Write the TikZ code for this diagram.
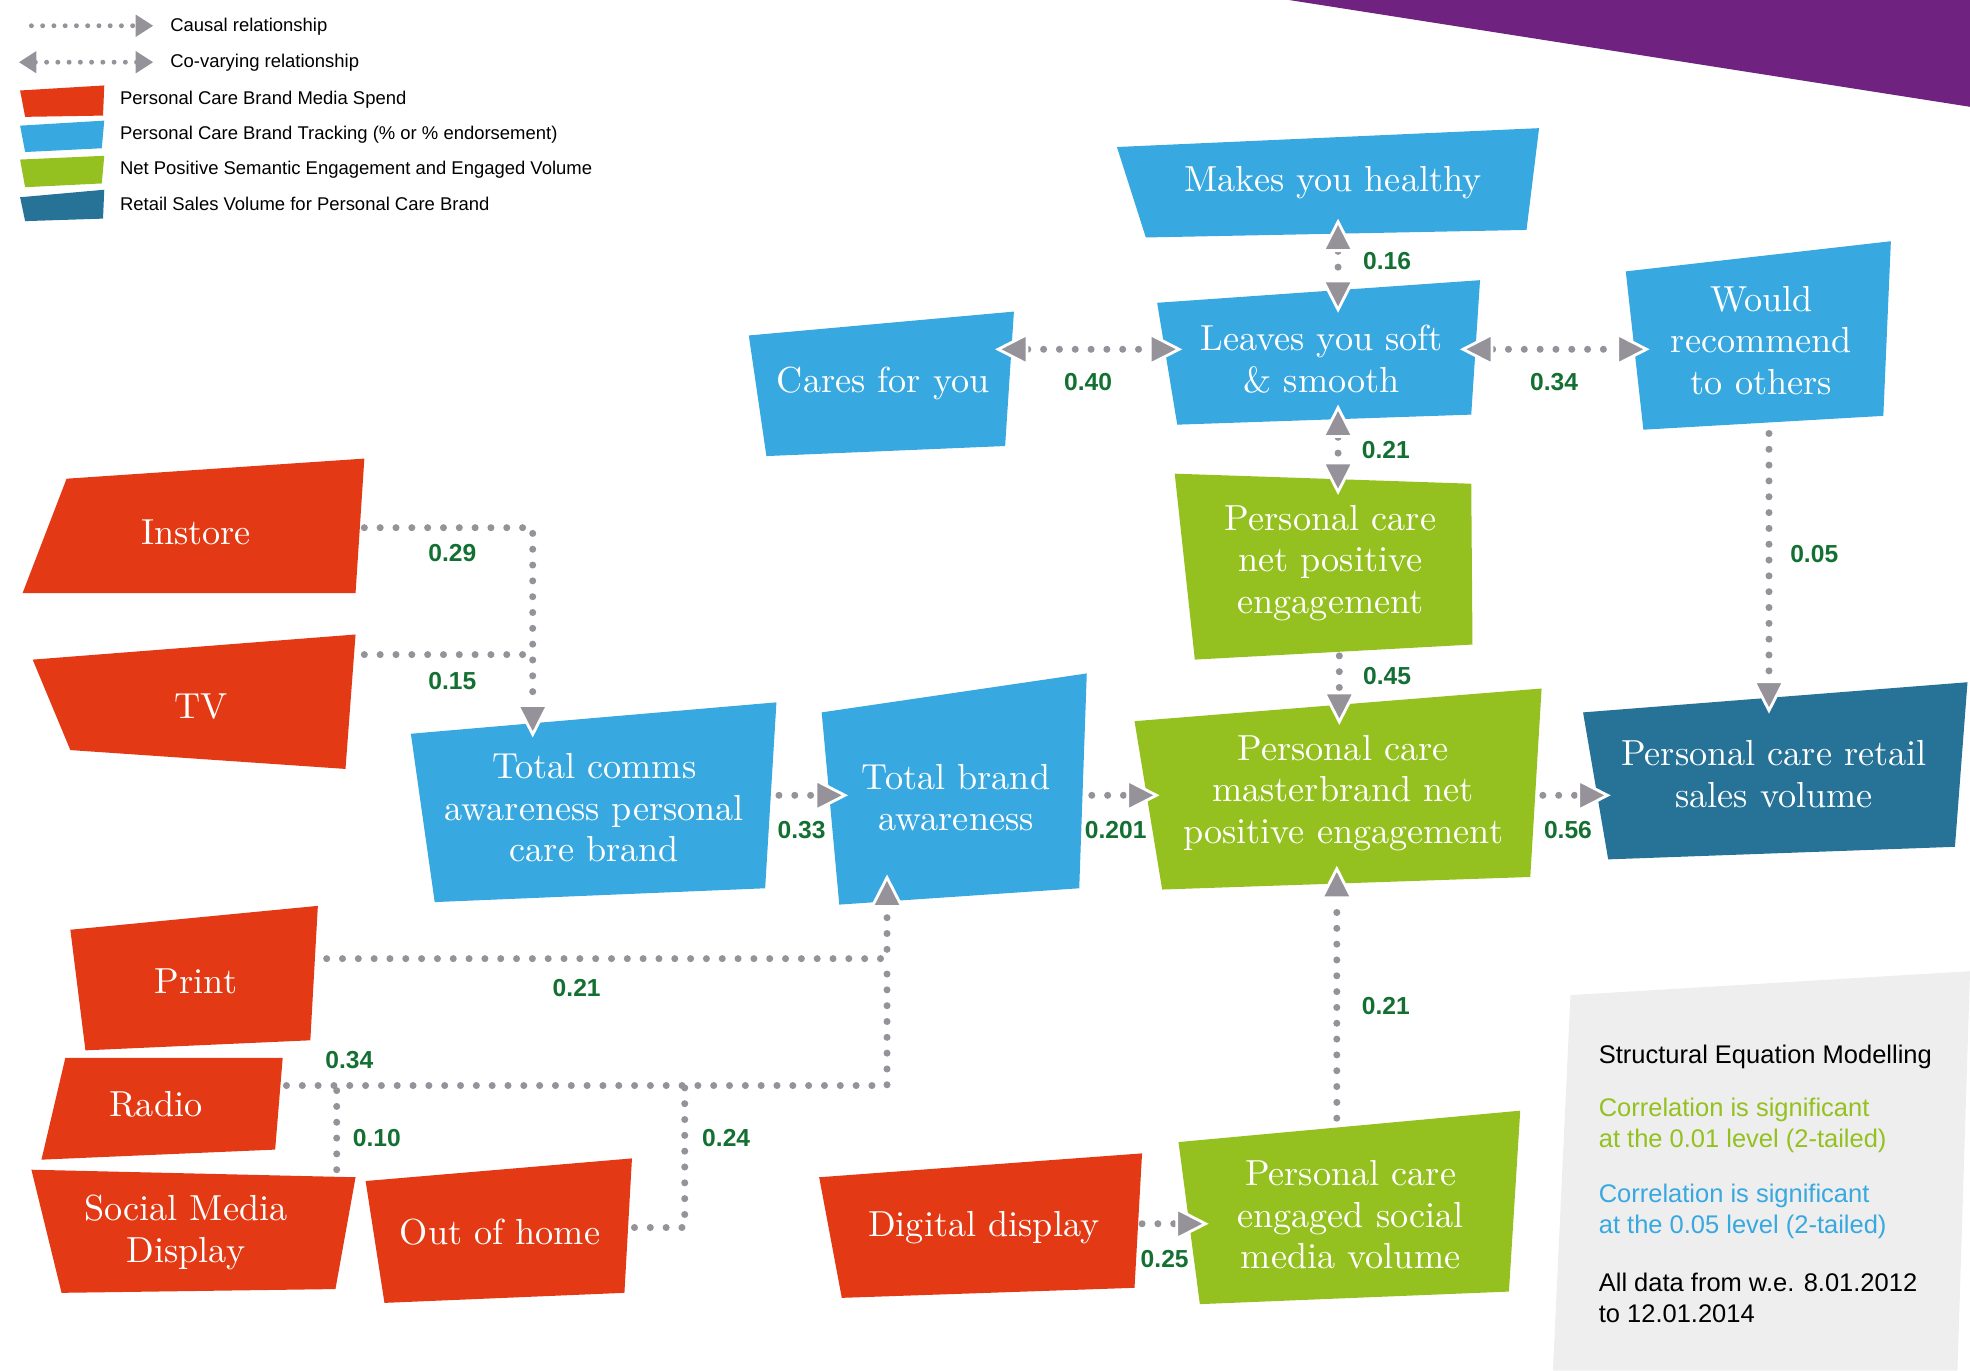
\documentclass[tikz,border=0pt]{standalone}
\usepackage{fontspec}
\newfontfamily\helv{Liberation Sans}
\usetikzlibrary{arrows.meta}
\definecolor{mediaRed}{RGB}{228,57,21}
\definecolor{trackBlue}{RGB}{56,168,224}
\definecolor{engGreen}{RGB}{148,193,31}
\definecolor{salesBlue}{RGB}{38,115,151}
\definecolor{cornerPurple}{RGB}{111,34,128}
\definecolor{semGray}{RGB}{238,238,238}
\definecolor{dotGray}{RGB}{150,146,154}
\definecolor{coefGreen}{RGB}{20,112,50}
\tikzset{
  semtip/.tip={Triangle[length=9.5pt, width=9.5pt, color=white, fill=dotGray, line width=0.8pt]},
  legtip/.tip={Triangle[length=5pt, width=6pt, color=dotGray, fill=dotGray]}
}

\begin{document}
\begin{tikzpicture}[x=0.012564cm, y=-0.012564cm,
  spend/.style={fill=mediaRed},
  track/.style={fill=trackBlue},
  engage/.style={fill=engGreen},
  sales/.style={fill=salesBlue},
  lbl/.style={text=white, align=center, inner sep=0pt, font=\fontsize{10.3}{11.8}\selectfont},
  coef/.style={text=coefGreen, inner sep=0pt, font=\helv\bfseries\fontsize{7}{8}\selectfont},
  legtxt/.style={anchor=west, inner sep=0pt, font=\helv\fontsize{5.25}{6}\selectfont},
  semtxt/.style={anchor=west, align=left, inner sep=0pt, font=\helv\fontsize{7.25}{8.9}\selectfont},
  link/.style={draw=dotGray, line width=2pt, line cap=round, dash pattern=on 0pt off 4.5pt},
  causal/.style={link, arrows={-semtip}},
  covary/.style={link, arrows={semtip-semtip}},
  leglink/.style={draw=dotGray, line width=1.4pt, line cap=round, dash pattern=on 0pt off 3.2pt}
]
\useasboundingbox (0,0) rectangle (1568,1091);

% corner and note panel
\fill[cornerPurple] (1026,0) -- (1568,0) -- (1568,85) -- cycle;
\fill[semGray] (1250,792) -- (1568,773) -- (1558,1091) -- (1236,1091) -- cycle;
\node[semtxt] (semhead) at (1272,841) {Structural Equation Modelling};
\node[semtxt, text=engGreen] (semgreen) at (1272,896) {Correlation is significant\\at the 0.01 level (2-tailed)};
\node[semtxt, text=trackBlue] (semblue) at (1272,964) {Correlation is significant\\at the 0.05 level (2-tailed)};
\node[semtxt] (semdata) at (1272,1033) {All data from w.e. 8.01.2012\\to 12.01.2014};

% legend
\coordinate (lgA1) at (25,20.5);
\coordinate (lgA2) at (122,20.5);
\coordinate (lgB1) at (15,49.5);
\coordinate (lgB2) at (122,49.5);
\draw[leglink, arrows={-legtip}] (lgA1) -- (lgA2);
\draw[leglink, arrows={legtip-legtip}] (lgB1) -- (lgB2);
\node[legtxt] (lgcausal) at (135,21) {Causal relationship};
\node[legtxt] (lgcovary) at (135,50) {Co-varying relationship};
\fill[spend] (16,72) -- (83,68) -- (82,92) -- (20,93) -- cycle;
\fill[track] (16,100) -- (83,96) -- (81,118) -- (20,121) -- cycle;
\fill[engage] (16,127) -- (83,124) -- (81,146) -- (20,149) -- cycle;
\fill[sales] (16,157) -- (83,151) -- (82,174) -- (20,176) -- cycle;
\node[legtxt] (lgspend) at (95,79) {Personal Care Brand Media Spend};
\node[legtxt] (lgtrack) at (95,107) {Personal Care Brand Tracking (\% or \% endorsement)};
\node[legtxt] (lgengage) at (95,135) {Net Positive Semantic Engagement and Engaged Volume};
\node[legtxt] (lgsales) at (95,162) {Retail Sales Volume for Personal Care Brand};

% brand tracking
\fill[track] (889,117) -- (1225,102) -- (1215,183) -- (912,189) -- cycle;
\node[lbl] (healthy) at (1061,145) {Makes you healthy};
\fill[track] (921,241) -- (1178,223) -- (1171,330) -- (937,338) -- cycle;
\node[lbl] (leaves) at (1052,286) {Leaves you soft\\\& smooth};
\fill[track] (596,267) -- (807,248) -- (800,355) -- (610,363) -- cycle;
\node[lbl] (cares) at (703,305) {Cares for you};
\fill[track] (1294,216) -- (1505,192) -- (1499,331) -- (1308,342) -- cycle;
\node[lbl] (would) at (1402,271) {Would\\recommend\\to others};
\fill[track] (327,584) -- (618,559) -- (609,707) -- (346,718) -- cycle;
\node[lbl] (comms) at (473,643) {Total comms\\awareness personal\\care brand};
\fill[track] (654,567) -- (865,536) -- (859,707) -- (668,720) -- cycle;
\node[lbl] (brand) at (761,635) {Total brand\\awareness};

% engagement and sales
\fill[engage] (935,377) -- (1171,385) -- (1172,513) -- (951,525) -- cycle;
\node[lbl] (netpos) at (1059,448) {Personal care\\net positive\\engagement};
\fill[engage] (903,574) -- (1227,548) -- (1218,698) -- (925,708) -- cycle;
\node[lbl] (master) at (1069,631) {Personal care\\masterbrand net\\positive engagement};
\fill[engage] (938,909) -- (1210,884) -- (1201,1028) -- (955,1038) -- cycle;
\node[lbl] (engaged) at (1075,967) {Personal care\\engaged social\\media volume};
\fill[sales] (1260,567) -- (1566,543) -- (1556,674) -- (1280,684) -- cycle;
\node[lbl] (retail) at (1412,616) {Personal care retail\\sales volume};

% media spend
\fill[spend] (53,381) -- (290,365) -- (283,472) -- (18,472) -- cycle;
\node[lbl] (instore) at (156,424) {Instore};
\fill[spend] (26,525) -- (283,505) -- (275,612) -- (56,597) -- cycle;
\node[lbl] (tv) at (160,562) {TV};
\fill[spend] (56,740) -- (253,721) -- (247,828) -- (68,836) -- cycle;
\node[lbl] (print) at (156,781) {Print};
\fill[spend] (52,842) -- (225,842) -- (219,915) -- (33,923) -- cycle;
\node[lbl] (radio) at (124,879) {Radio};
\fill[spend] (25,931) -- (283,937) -- (267,1026) -- (49,1029) -- cycle;
\node[lbl] (smd) at (148,981) {Social Media\\Display};
\fill[spend] (291,940) -- (503,922) -- (497,1029) -- (306,1037) -- cycle;
\node[lbl] (ooh) at (398,981) {Out of home};
\fill[spend] (652,937) -- (909,918) -- (903,1025) -- (670,1033) -- cycle;
\node[lbl] (digital) at (783,977) {Digital display};

% ports
\coordinate (healthy-s) at (1065,174);
\coordinate (leaves-n) at (1065,249);
\coordinate (cares-e) at (792,278);
\coordinate (leaves-w) at (941,278);
\coordinate (leaves-e) at (1162,278);
\coordinate (would-w) at (1313,278);
\coordinate (leaves-s) at (1065,322);
\coordinate (netpos-n) at (1065,394);
\coordinate (netpos-s) at (1066,522);
\coordinate (master-n) at (1066,577);
\coordinate (would-s) at (1408,345);
\coordinate (retail-n) at (1408,568);
\coordinate (instore-e) at (290,420);
\coordinate (tv-e) at (290,521);
\coordinate (comms-n) at (424,587);
\coordinate (comms-e) at (620,633);
\coordinate (brand-w) at (675,633);
\coordinate (brand-e) at (869,633);
\coordinate (master-w) at (923,633);
\coordinate (master-e) at (1228,633);
\coordinate (retail-w) at (1282,633);
\coordinate (print-e) at (260,763);
\coordinate (brand-s) at (706,696);
\coordinate (radio-e) at (228,864);
\coordinate (smd-n) at (268,931);
\coordinate (ooh-e) at (505,977);
\coordinate (ooh-j) at (545,864);
\coordinate (digital-e) at (909,974);
\coordinate (engaged-w) at (962,974);
\coordinate (engaged-n) at (1064,890);
\coordinate (master-s) at (1064,689);

% relationships
\draw[covary] (healthy-s) -- (leaves-n);
\node[coef] (c-healthy) at (1104,208) {0.16};
\draw[covary] (cares-e) -- (leaves-w);
\node[coef] (c-cares) at (866,304) {0.40};
\draw[covary] (leaves-e) -- (would-w);
\node[coef] (c-would) at (1237,304) {0.34};
\draw[covary] (leaves-s) -- (netpos-n);
\node[coef] (c-netpos) at (1103,358) {0.21};
\draw[causal] (netpos-s) -- (master-n);
\node[coef] (c-master) at (1104,538) {0.45};
\draw[causal] (would-s) -- (retail-n);
\node[coef] (c-retail) at (1444,441) {0.05};

\draw[causal] (instore-e) -| (comms-n);
\node[coef] (c-instore) at (360,440) {0.29};
\draw[link] (tv-e) -- (tv-e -| comms-n);
\node[coef] (c-tv) at (360,542) {0.15};

\draw[causal] (comms-e) -- (brand-w);
\node[coef] (c-comms) at (638,661) {0.33};
\draw[causal] (brand-e) -- (master-w);
\node[coef] (c-brand) at (888,661) {0.201};
\draw[causal] (master-e) -- (retail-w);
\node[coef] (c-sales) at (1248,661) {0.56};

\draw[causal] (print-e) -| (brand-s);
\node[coef] (c-print) at (459,786) {0.21};
\draw[link] (radio-e) -| (print-e -| brand-s);
\node[coef] (c-radio) at (278,844) {0.34};
\draw[link] (smd-n) -- (smd-n |- radio-e);
\node[coef] (c-smd) at (300,906) {0.10};
\draw[link] (ooh-e) -| (ooh-j);
\node[coef] (c-ooh) at (578,906) {0.24};

\draw[causal] (digital-e) -- (engaged-w);
\node[coef] (c-digital) at (927,1002) {0.25};
\draw[causal] (engaged-n) -- (master-s);
\node[coef] (c-engaged) at (1103,801) {0.21};
\end{tikzpicture}
\end{document}
